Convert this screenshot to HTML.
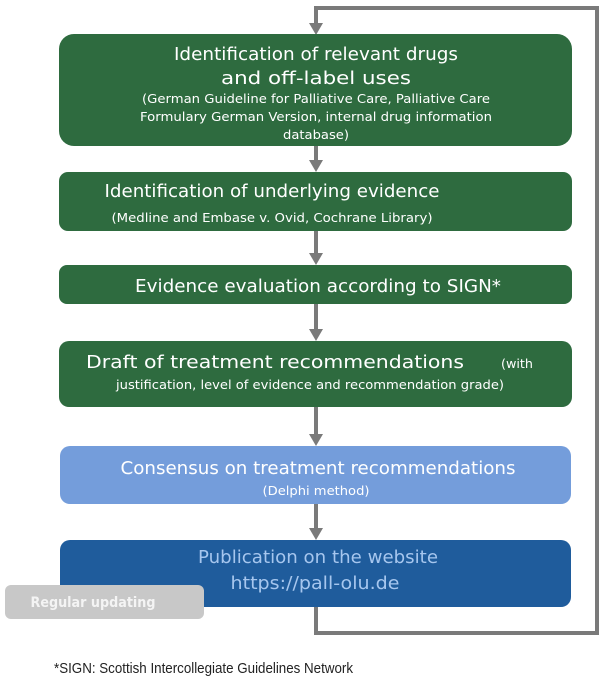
<!DOCTYPE html>
<html><head><meta charset="utf-8"><style>
html,body{margin:0;padding:0;background:#fff;}
svg{display:block;}
text{font-family:"DejaVu Sans","Liberation Sans",sans-serif;}
</style></head><body>
<svg width="604" height="682" viewBox="0 0 604 682" xmlns="http://www.w3.org/2000/svg">
<g stroke="#7a7a7a" stroke-width="4" fill="none">
<polyline points="316,27 316,8 597,8 597,633 316,633 316,607"/>
<line x1="316" y1="146" x2="316" y2="162"/>
<line x1="316" y1="231" x2="316" y2="255"/>
<line x1="316" y1="304" x2="316" y2="331"/>
<line x1="316" y1="407" x2="316" y2="436"/>
<line x1="316" y1="504" x2="316" y2="530"/>
</g>
<g fill="#7a7a7a">
<polygon points="309,23 323,23 316,35"/>
<polygon points="309,160 323,160 316,172"/>
<polygon points="309,253 323,253 316,265"/>
<polygon points="309,329 323,329 316,341"/>
<polygon points="309,434 323,434 316,446"/>
<polygon points="309,528 323,528 316,540"/>
</g>
<rect x="59" y="34" width="513" height="112" rx="15" fill="#2e6b3f"/>
<rect x="59" y="172" width="513" height="59" rx="9" fill="#2e6b3f"/>
<rect x="59" y="265" width="513" height="39" rx="8" fill="#2e6b3f"/>
<rect x="59" y="341" width="513" height="66" rx="10" fill="#2e6b3f"/>
<rect x="60" y="446" width="511" height="58" rx="10" fill="#749ddb"/>
<rect x="60" y="540" width="511" height="67" rx="10" fill="#1f5c9c"/>
<rect x="5" y="585" width="199" height="34" rx="6" fill="#c8c8c8"/>
<g fill="#ffffff" text-anchor="middle">
<text x="316" y="60" font-size="18" textLength="284" lengthAdjust="spacingAndGlyphs">Identification of relevant drugs</text>
<text x="316" y="84" font-size="18" textLength="190" lengthAdjust="spacingAndGlyphs">and off-label uses</text>
<text x="316" y="103" font-size="12.5" textLength="348" lengthAdjust="spacingAndGlyphs">(German Guideline for Palliative Care, Palliative Care</text>
<text x="316" y="121" font-size="12.5" textLength="352" lengthAdjust="spacingAndGlyphs">Formulary German Version, internal drug information</text>
<text x="316" y="139" font-size="12.5" textLength="66" lengthAdjust="spacingAndGlyphs">database)</text>
<text x="272" y="197" font-size="18" textLength="335" lengthAdjust="spacingAndGlyphs">Identification of underlying evidence</text>
<text x="272" y="222" font-size="12.5" textLength="321" lengthAdjust="spacingAndGlyphs">(Medline and Embase v. Ovid, Cochrane Library)</text>
<text x="318" y="292" font-size="18" textLength="366" lengthAdjust="spacingAndGlyphs">Evidence evaluation according to SIGN*</text>
<text x="275" y="368" font-size="18" textLength="378" lengthAdjust="spacingAndGlyphs">Draft of treatment recommendations</text>
<text x="517" y="368" font-size="12.5" textLength="32" lengthAdjust="spacingAndGlyphs">(with</text>
<text x="310" y="389" font-size="12.5" textLength="388" lengthAdjust="spacingAndGlyphs">justification, level of evidence and recommendation grade)</text>
<text x="318" y="474" font-size="18" textLength="395" lengthAdjust="spacingAndGlyphs">Consensus on treatment recommendations</text>
<text x="316" y="495" font-size="12.5" textLength="107" lengthAdjust="spacingAndGlyphs">(Delphi method)</text>
</g>
<g fill="#a6c6ee" text-anchor="middle">
<text x="318" y="563" font-size="18" textLength="240" lengthAdjust="spacingAndGlyphs">Publication on the website</text>
<text x="315" y="589" font-size="18" textLength="169" lengthAdjust="spacingAndGlyphs">https://pall-olu.de</text>
</g>
<text x="93" y="607" font-size="14" font-weight="bold" fill="#f4f4f4" text-anchor="middle" textLength="125" lengthAdjust="spacingAndGlyphs">Regular updating</text>
<text x="54" y="673" font-size="15" fill="#222" textLength="299" lengthAdjust="spacingAndGlyphs" style="font-family:'Liberation Sans Narrow','Liberation Sans',sans-serif">*SIGN: Scottish Intercollegiate Guidelines Network</text>
</svg>
</body></html>
